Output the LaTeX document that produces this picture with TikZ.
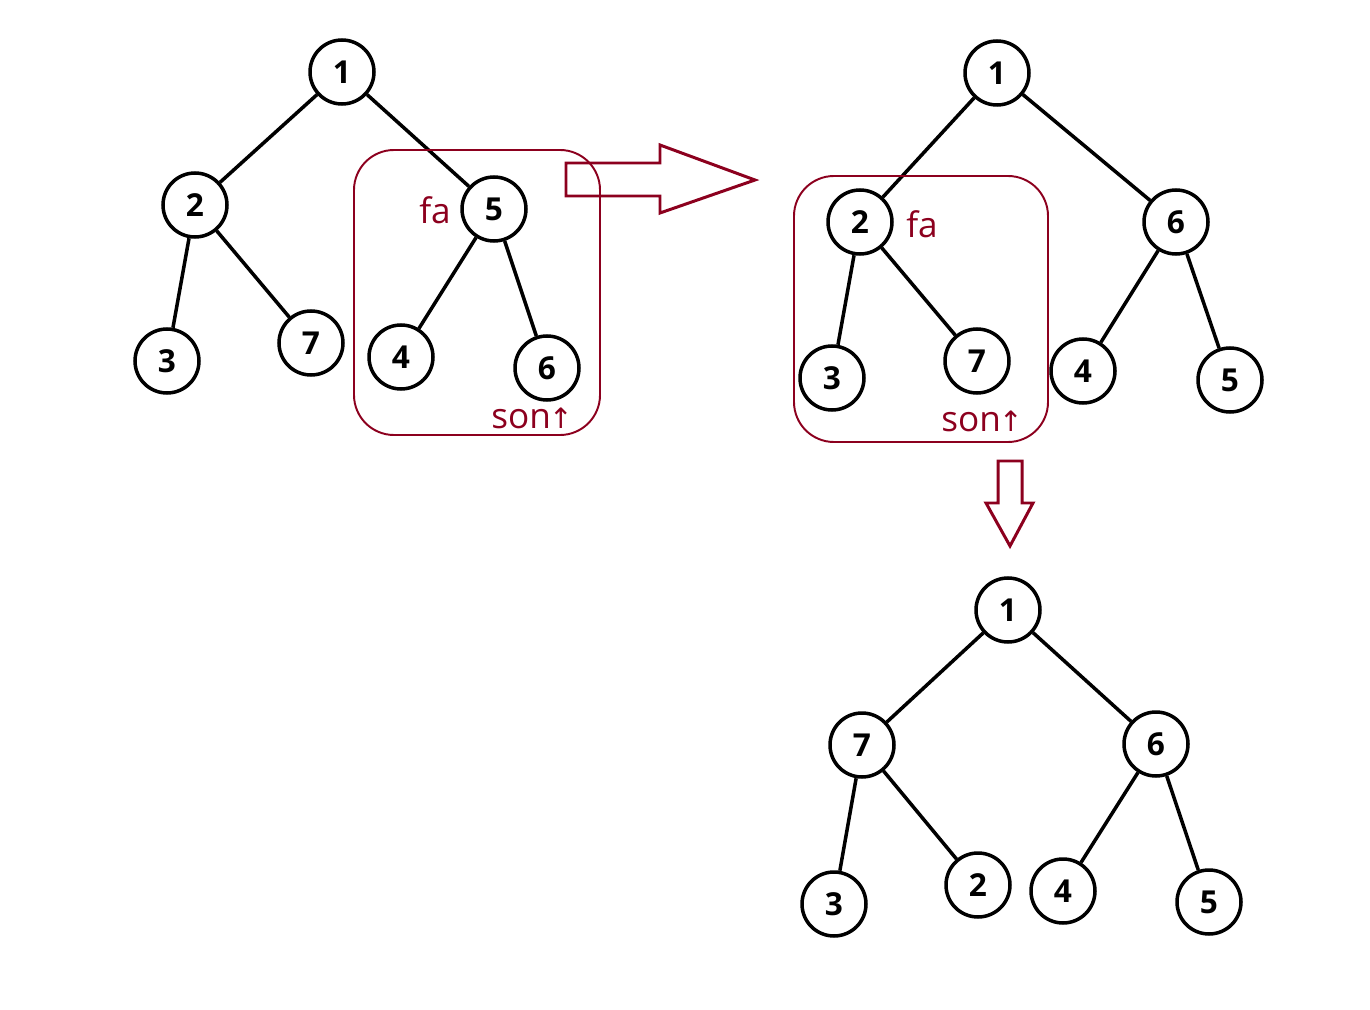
\documentclass[tikz,border=0pt]{standalone}
\usepackage{fontspec}
\setmainfont{Open Sans}
\newfontfamily\flechefont{DejaVu Sans}
\usetikzlibrary{positioning}
\definecolor{rougeFonce}{RGB}{140,0,30}

\begin{document}
\begin{tikzpicture}[x=0.02cm,y=-0.02cm,
  nd/.style={circle,draw=black,line width=2pt,minimum size=1.28cm,inner sep=0pt,
             font=\fontsize{18}{18}\selectfont\bfseries},
  ed/.style={line width=2pt},
  zone/.style={draw=rougeFonce,line width=1.1pt,rounded corners=0.8cm},
  lab/.style={text=rougeFonce,inner sep=0pt,font=\fontsize{20}{20}\selectfont},
  fleche/.style={draw=rougeFonce,line width=1.7pt,line join=miter}]

  \useasboundingbox (0,0) rectangle (1370,1010);

  % premier arbre
  \node[nd] (a1) at (342,72)  {1};
  \node[nd] (a2) at (195,205) {2};
  \node[nd] (a3) at (167,361) {3};
  \node[nd] (a7) at (311,343) {7};
  \node[nd] (a5) at (494,209) {5};
  \node[nd] (a4) at (401,357) {4};
  \node[nd] (a6) at (547,368) {6};
  \foreach \p/\f in {a1/a2,a1/a5,a2/a3,a2/a7,a5/a4,a5/a6} {
    \draw[ed] (\p)--(\f);
  }
  \draw[zone] (354,150) rectangle (600,435);
  \node[lab] (fa1)  at (435,210) {fa};
  \node[lab] (son1) at (532,418) {son\kern-1pt{\flechefont\fontsize{16}{16}\selectfont ↑}};

  % fleche vers la droite
  \draw[fleche] (566,163)--(660,163)--(660,145)--(755,180)--(660,213)--(660,196)--(566,196)--cycle;

  % deuxieme arbre
  \node[nd] (b1) at (997,73)   {1};
  \node[nd] (b2) at (860,222)  {2};
  \node[nd] (b6) at (1176,222) {6};
  \node[nd] (b3) at (832,378)  {3};
  \node[nd] (b7) at (977,361)  {7};
  \node[nd] (b4) at (1083,371) {4};
  \node[nd] (b5) at (1230,380) {5};
  \foreach \p/\f in {b1/b2,b1/b6,b2/b3,b2/b7,b6/b4,b6/b5} {
    \draw[ed] (\p)--(\f);
  }
  \draw[zone] (794,176) rectangle (1048,442);
  \node[lab] (fa2)  at (922,224) {fa};
  \node[lab] (son2) at (982,421) {son\kern-1pt{\flechefont\fontsize{16}{16}\selectfont ↑}};

  % fleche vers le bas
  \draw[fleche] (998,461)--(1022,461)--(1022,503)--(1033,503)--(1010,546)--(986,503)--(998,503)--cycle;

  % troisieme arbre
  \node[nd] (c1) at (1008,610) {1};
  \node[nd] (c7) at (862,745)  {7};
  \node[nd] (c6) at (1156,744) {6};
  \node[nd] (c3) at (834,904)  {3};
  \node[nd] (c2) at (978,885)  {2};
  \node[nd] (c4) at (1063,891) {4};
  \node[nd] (c5) at (1209,902) {5};
  \foreach \p/\f in {c1/c7,c1/c6,c7/c3,c7/c2,c6/c4,c6/c5} {
    \draw[ed] (\p)--(\f);
  }
\end{tikzpicture}
\end{document}
